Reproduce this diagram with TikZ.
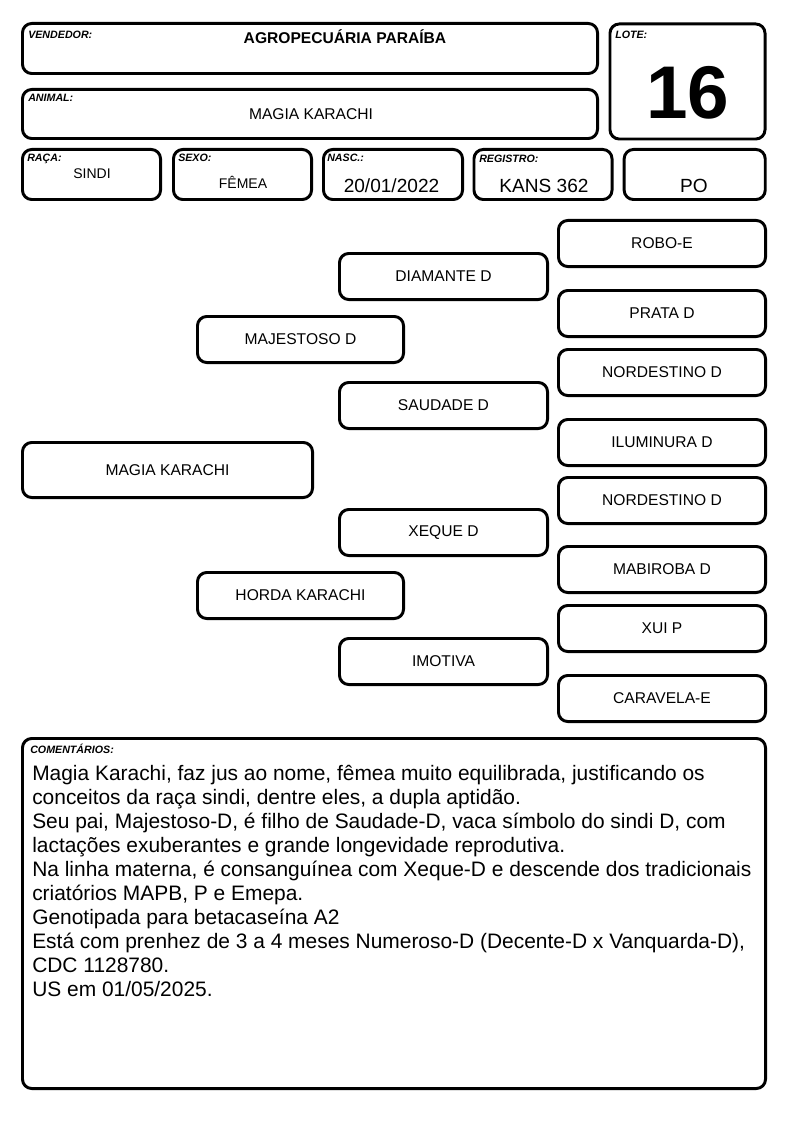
\documentclass[tikz,border=0pt]{standalone}
\usepackage{fontspec}
\setmainfont{Liberation Sans}
\begin{document}
\begin{tikzpicture}[x=0.75pt,y=-0.75pt,
  box/.style={draw=black, line width=2.2pt, rounded corners=7pt, inner sep=0pt, fill=white},
  sz/.style 2 args={minimum width={#1*0.75pt-2.2pt}, minimum height={#2*0.75pt-2.2pt}},
  lbl/.style={font=\fontsize{8}{9}\selectfont\bfseries\itshape, anchor=base west, inner sep=0pt},
  ped/.style={box, font=\fontsize{11.7}{14}\selectfont},
  val/.style={font=\fontsize{14.3}{17}\selectfont, anchor=base, inner sep=0pt},
  sval/.style={font=\fontsize{10.5}{13}\selectfont, anchor=base, inner sep=0pt}]
\useasboundingbox (0,0) rectangle (794,1123);
% header
\node[box, sz={578}{53}] (vend) at (310,48.5) {};
\node[lbl] (vendl) at (28,39) {VENDEDOR:};
\node[font=\fontsize{11.7}{14}\selectfont\bfseries, anchor=base, inner sep=0pt] (vendv) at (345,43.5) {AGROPECUÁRIA PARAÍBA};
\node[box, sz={578}{52}] (anim) at (310,114) {};
\node[lbl] (animl) at (28,102) {ANIMAL:};
\node[font=\fontsize{11.7}{14}\selectfont, anchor=base, inner sep=0pt] (animv) at (311,120) {MAGIA KARACHI};
\node[box, sz={158}{118}] (lote) at (687.5,81.5) {};
\node[lbl] (lotel) at (615,39) {LOTE:};
\node[font=\fontsize{56}{60}\selectfont\bfseries, anchor=base, inner sep=0pt] (lotev) at (688,118.3) {16};
% row 3
\node[box, sz={141}{53}] (raca) at (91.5,174.5) {};
\node[lbl] (racal) at (27,162) {RAÇA:};
\node[sval] (racav) at (92,178.3) {SINDI};
\node[box, sz={141}{53}] (sexo) at (242.5,174.5) {};
\node[lbl] (sexol) at (178,162) {SEXO:};
\node[sval] (sexov) at (243,189) {FÊMEA};
\node[box, sz={142}{53}] (nasc) at (393,174.5) {};
\node[lbl] (nascl) at (327,162) {NASC.:};
\node[val] (nascv) at (391.5,192.3) {20/01/2022};
\node[box, sz={141}{53}] (reg) at (543,174.5) {};
\node[lbl] (regl) at (479,163) {REGISTRO:};
\node[val] (regv) at (544,192.5) {KANS 362};
\node[box, sz={144}{53}] (po) at (694.7,174.5) {};
\node[val] (pov) at (694,192.7) {PO};
% pedigree
\node[ped, sz={293}{58}] (p1) at (167.5,470) {MAGIA KARACHI};
\node[ped, sz={209}{49}] (p2a) at (300.5,339.5) {MAJESTOSO D};
\node[ped, sz={209}{49}] (p2b) at (300.5,595.5) {HORDA KARACHI};
\node[ped, sz={211}{49}] (p3a) at (443.5,276.5) {DIAMANTE D};
\node[ped, sz={211}{49}] (p3b) at (443.5,405.5) {SAUDADE D};
\node[ped, sz={211}{49}] (p3c) at (443.5,532.5) {XEQUE D};
\node[ped, sz={211}{49}] (p3d) at (443.5,661.5) {IMOTIVA};
\node[ped, sz={210}{49}] (p4a) at (662,243.5) {ROBO-E};
\node[ped, sz={210}{49}] (p4b) at (662,313.5) {PRATA D};
\node[ped, sz={210}{49}] (p4c) at (662,372.5) {NORDESTINO D};
\node[ped, sz={210}{49}] (p4d) at (662,442.5) {ILUMINURA D};
\node[ped, sz={210}{49}] (p4e) at (662,500.5) {NORDESTINO D};
\node[ped, sz={210}{49}] (p4f) at (662,569.5) {MABIROBA D};
\node[ped, sz={210}{49}] (p4g) at (662,628.5) {XUI P};
\node[ped, sz={210}{49}] (p4h) at (662,698.5) {CARAVELA-E};
% comments
\node[box, sz={746}{353}] (com) at (394,913.5) {};
\node[lbl] (coml) at (30,753.3) {COMENTÁRIOS:};
\node[font=\fontsize{15.7}{18}\selectfont, anchor=north west, inner sep=0pt, align=left] (comv) at (32,763.9) {\strut Magia Karachi, faz jus ao nome, fêmea muito equilibrada, justificando os\\
conceitos da raça sindi, dentre eles, a dupla aptidão.\\
Seu pai, Majestoso-D, é filho de Saudade-D, vaca símbolo do sindi D, com\\
lactações exuberantes e grande longevidade reprodutiva.\\
Na linha materna, é consanguínea com Xeque-D e descende dos tradicionais\\
criatórios MAPB, P e Emepa.\\
Genotipada para betacaseína A2\\
Está com prenhez de 3 a 4 meses Numeroso-D (Decente-D x Vanquarda-D),\\
CDC 1128780.\\
US em 01/05/2025.};
\end{tikzpicture}
\end{document}
